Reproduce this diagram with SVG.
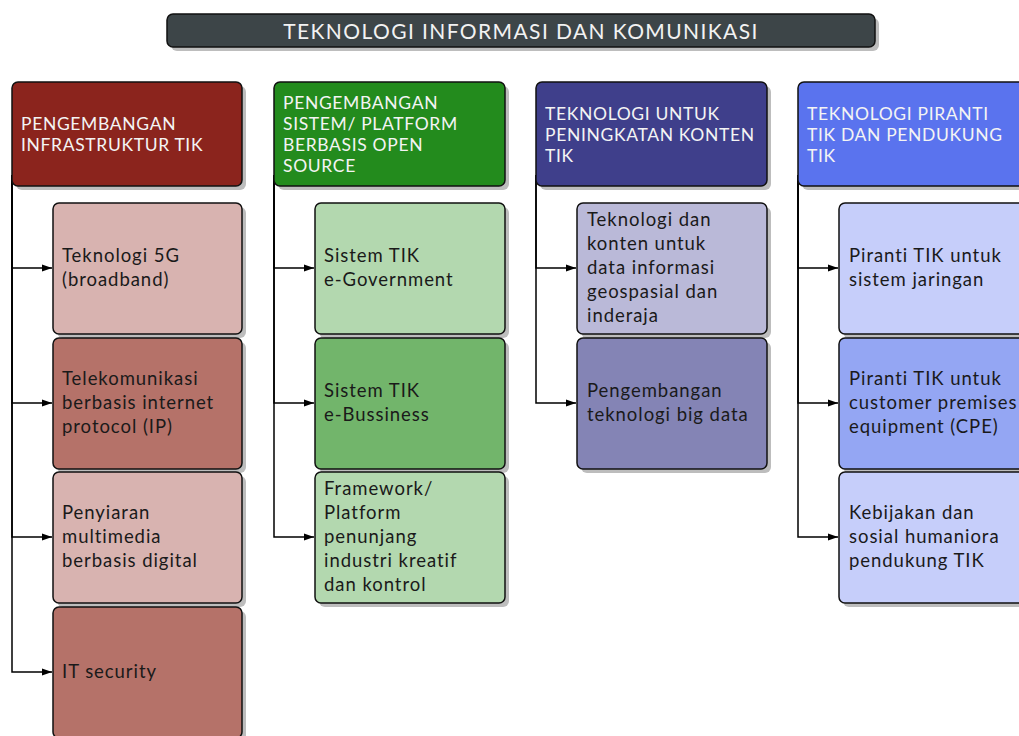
<svg xmlns="http://www.w3.org/2000/svg" width="1019" height="736" viewBox="0 0 1019 736">
<style>
  .box { stroke: #111; stroke-width: 1.5; }
  .shadow { fill: #bdbdbd; }
  .title { font-family: Lato, "Noto Sans", sans-serif; font-size: 21px; fill: #f2f2f2; letter-spacing: 1.4px; }
  .head { font-family: Lato, "Noto Sans", sans-serif; font-size: 17.5px; fill: #f4f4f4; letter-spacing: 0.65px; }
  .item { font-family: Lato, "Noto Sans", sans-serif; font-size: 18.5px; fill: #1a1a1a; letter-spacing: 0.95px; }
  .conn { fill: none; stroke: #000; stroke-width: 1.5; }
  .h1 { fill: #8b241d; } .l1 { fill: #d8b3b0; } .d1 { fill: #b57269; }
  .h2 { fill: #238b1d; } .l2 { fill: #b3d8af; } .d2 { fill: #72b56b; }
  .h3 { fill: #3f3f8b; } .l3 { fill: #bab9d8; } .d3 { fill: #8484b5; }
  .h4 { fill: #5a73ee; } .l4 { fill: #c6cefa; } .d4 { fill: #94a6f3; }
</style>
<defs>
  <marker id="arr" markerUnits="userSpaceOnUse" markerWidth="11" markerHeight="8" refX="10" refY="4" orient="auto">
    <path d="M0,0.5 L10,4 L0,7.5 z" fill="#000"/>
  </marker>
</defs>
<rect width="1019" height="736" fill="#fff"/>

<g id="title">
  <rect class="shadow" x="171" y="18" width="708" height="33" rx="6"/>
  <rect class="box" x="167" y="14" width="708" height="33" rx="6" fill="#3d4548"/>
  <text class="title" x="521" y="39" text-anchor="middle">TEKNOLOGI INFORMASI DAN KOMUNIKASI</text>
</g>

<g id="connectors">
  <path class="conn" d="M12,175 V268 H52" marker-end="url(#arr)"/>
  <path class="conn" d="M12,175 V403 H52" marker-end="url(#arr)"/>
  <path class="conn" d="M12,175 V537 H52" marker-end="url(#arr)"/>
  <path class="conn" d="M12,175 V672 H52" marker-end="url(#arr)"/>
  <path class="conn" d="M274,175 V268 H314" marker-end="url(#arr)"/>
  <path class="conn" d="M274,175 V403 H314" marker-end="url(#arr)"/>
  <path class="conn" d="M274,175 V537 H314" marker-end="url(#arr)"/>
  <path class="conn" d="M536,175 V268 H576" marker-end="url(#arr)"/>
  <path class="conn" d="M536,175 V403 H576" marker-end="url(#arr)"/>
  <path class="conn" d="M798,175 V268 H838" marker-end="url(#arr)"/>
  <path class="conn" d="M798,175 V403 H838" marker-end="url(#arr)"/>
  <path class="conn" d="M798,175 V537 H838" marker-end="url(#arr)"/>
</g>

<!-- Column 1 -->
<g id="h1">
  <rect class="shadow" x="16" y="86" width="230" height="104" rx="6"/>
  <rect class="box h1" x="12" y="82" width="230" height="104" rx="6"/>
  <text class="head" x="21" y="130">PENGEMBANGAN</text>
  <text class="head" x="21" y="151">INFRASTRUKTUR TIK</text>
</g>
<g id="c1a">
  <rect class="shadow" x="57" y="207" width="189" height="131" rx="6"/>
  <rect class="box l1" x="53" y="203" width="189" height="131" rx="6"/>
  <text class="item" x="62" y="262">Teknologi 5G</text>
  <text class="item" x="62" y="286">(broadband)</text>
</g>
<g id="c1b">
  <rect class="shadow" x="57" y="342" width="189" height="131" rx="6"/>
  <rect class="box d1" x="53" y="338" width="189" height="131" rx="6"/>
  <text class="item" x="62" y="385">Telekomunikasi</text>
  <text class="item" x="62" y="409">berbasis internet</text>
  <text class="item" x="62" y="433">protocol (IP)</text>
</g>
<g id="c1c">
  <rect class="shadow" x="57" y="476" width="189" height="131" rx="6"/>
  <rect class="box l1" x="53" y="472" width="189" height="131" rx="6"/>
  <text class="item" x="62" y="519">Penyiaran</text>
  <text class="item" x="62" y="543">multimedia</text>
  <text class="item" x="62" y="567">berbasis digital</text>
</g>
<g id="c1d">
  <rect class="shadow" x="57" y="611" width="189" height="131" rx="6"/>
  <rect class="box d1" x="53" y="607" width="189" height="131" rx="6"/>
  <text class="item" x="62" y="678">IT security</text>
</g>

<!-- Column 2 -->
<g id="h2">
  <rect class="shadow" x="278" y="86" width="231" height="104" rx="6"/>
  <rect class="box h2" x="274" y="82" width="231" height="104" rx="6"/>
  <text class="head" x="283" y="109">PENGEMBANGAN</text>
  <text class="head" x="283" y="130">SISTEM/ PLATFORM</text>
  <text class="head" x="283" y="151">BERBASIS OPEN</text>
  <text class="head" x="283" y="172">SOURCE</text>
</g>
<g id="c2a">
  <rect class="shadow" x="319" y="207" width="190" height="131" rx="6"/>
  <rect class="box l2" x="315" y="203" width="190" height="131" rx="6"/>
  <text class="item" x="324" y="262">Sistem TIK</text>
  <text class="item" x="324" y="286">e-Government</text>
</g>
<g id="c2b">
  <rect class="shadow" x="319" y="342" width="190" height="131" rx="6"/>
  <rect class="box d2" x="315" y="338" width="190" height="131" rx="6"/>
  <text class="item" x="324" y="397">Sistem TIK</text>
  <text class="item" x="324" y="421">e-Bussiness</text>
</g>
<g id="c2c">
  <rect class="shadow" x="319" y="476" width="190" height="131" rx="6"/>
  <rect class="box l2" x="315" y="472" width="190" height="131" rx="6"/>
  <text class="item" x="324" y="495">Framework/</text>
  <text class="item" x="324" y="519">Platform</text>
  <text class="item" x="324" y="543">penunjang</text>
  <text class="item" x="324" y="567">industri kreatif</text>
  <text class="item" x="324" y="591">dan kontrol</text>
</g>

<!-- Column 3 -->
<g id="h3">
  <rect class="shadow" x="540" y="86" width="231" height="104" rx="6"/>
  <rect class="box h3" x="536" y="82" width="231" height="104" rx="6"/>
  <text class="head" x="545" y="120">TEKNOLOGI UNTUK</text>
  <text class="head" x="545" y="141">PENINGKATAN KONTEN</text>
  <text class="head" x="545" y="162">TIK</text>
</g>
<g id="c3a">
  <rect class="shadow" x="581" y="207" width="190" height="131" rx="6"/>
  <rect class="box l3" x="577" y="203" width="190" height="131" rx="6"/>
  <text class="item" x="587" y="226">Teknologi dan</text>
  <text class="item" x="587" y="250">konten untuk</text>
  <text class="item" x="587" y="274">data informasi</text>
  <text class="item" x="587" y="298">geospasial dan</text>
  <text class="item" x="587" y="322">inderaja</text>
</g>
<g id="c3b">
  <rect class="shadow" x="581" y="342" width="190" height="131" rx="6"/>
  <rect class="box d3" x="577" y="338" width="190" height="131" rx="6"/>
  <text class="item" x="587" y="397">Pengembangan</text>
  <text class="item" x="587" y="421">teknologi big data</text>
</g>

<!-- Column 4 -->
<g id="h4">
  <rect class="shadow" x="802" y="86" width="231" height="104" rx="6"/>
  <rect class="box h4" x="798" y="82" width="231" height="104" rx="6"/>
  <text class="head" x="807" y="120">TEKNOLOGI PIRANTI</text>
  <text class="head" x="807" y="141">TIK DAN PENDUKUNG</text>
  <text class="head" x="807" y="162">TIK</text>
</g>
<g id="c4a">
  <rect class="shadow" x="843" y="207" width="190" height="131" rx="6"/>
  <rect class="box l4" x="839" y="203" width="190" height="131" rx="6"/>
  <text class="item" x="849" y="262">Piranti TIK untuk</text>
  <text class="item" x="849" y="286">sistem jaringan</text>
</g>
<g id="c4b">
  <rect class="shadow" x="843" y="342" width="190" height="131" rx="6"/>
  <rect class="box d4" x="839" y="338" width="190" height="131" rx="6"/>
  <text class="item" x="849" y="385">Piranti TIK untuk</text>
  <text class="item" x="849" y="409">customer premises</text>
  <text class="item" x="849" y="433">equipment (CPE)</text>
</g>
<g id="c4c">
  <rect class="shadow" x="843" y="476" width="190" height="131" rx="6"/>
  <rect class="box l4" x="839" y="472" width="190" height="131" rx="6"/>
  <text class="item" x="849" y="519">Kebijakan dan</text>
  <text class="item" x="849" y="543">sosial humaniora</text>
  <text class="item" x="849" y="567">pendukung TIK</text>
</g>
</svg>
